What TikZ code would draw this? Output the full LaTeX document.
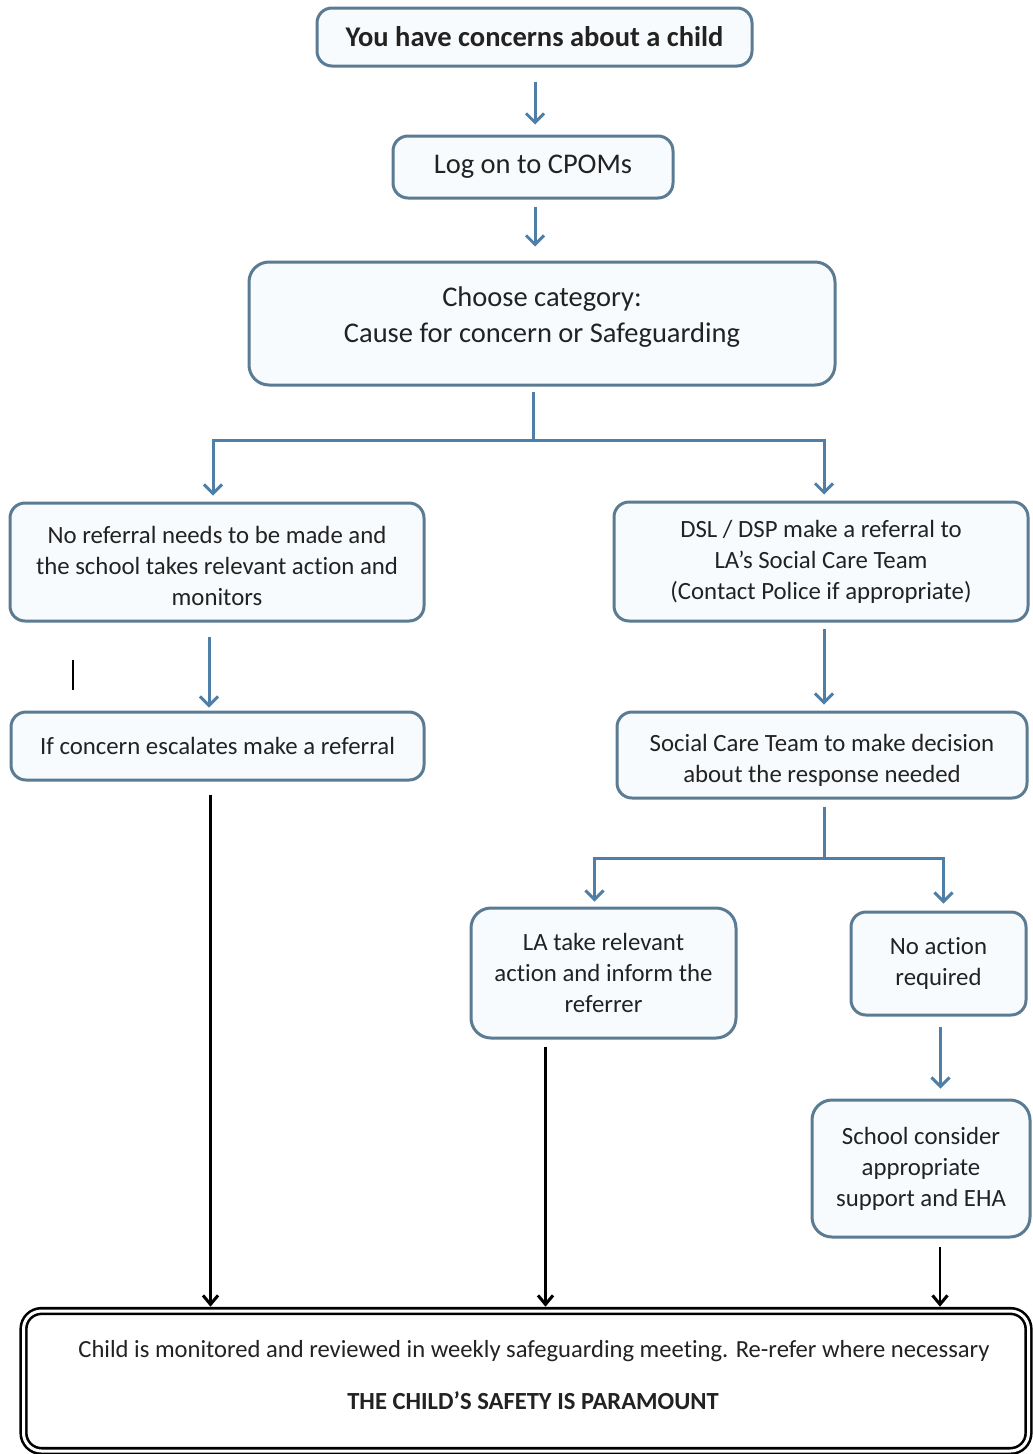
\documentclass[tikz,border=0pt]{standalone}
\usepackage{fontspec}
\setmainfont{Carlito}[Ligatures=CommonOff]
\usetikzlibrary{arrows.meta,calc}
\definecolor{bord}{HTML}{5B7B93}
\definecolor{arrc}{HTML}{4F7FA6}
\definecolor{boxfill}{HTML}{F8FBFD}
\definecolor{txt}{HTML}{222222}
\begin{document}
\begin{tikzpicture}[x=1pt,y=-1pt,
  box/.style={draw=bord, line width=3pt, rounded corners=15pt, fill=boxfill, align=center, inner sep=0pt, text=txt, font=\fontsize{24.8}{31}\selectfont},
  arr/.style={draw=arrc, line width=3pt, -{Straight Barb[length=9pt,width=18pt,line width=3pt]}},
  bline/.style={draw=arrc, line width=3pt},
  karr/.style={draw=black, line width=2.8pt, -{Straight Barb[length=9pt,width=15pt,line width=3pt]}},
  btext/.style={text=txt, inner sep=0pt}
]
\useasboundingbox[fill=white] (0,0) rectangle (1033,1454);

\node[box, minimum width=435pt, minimum height=58pt, font=\bfseries\fontsize{28.5}{31}\selectfont] (b1) at (534.5,37) {You have concerns about a child};
\node[box, minimum width=280pt, minimum height=62pt, font=\fontsize{28.5}{31}\selectfont] (b2) at (533,167) {Log on to CPOMs};
\node[box, minimum width=586pt, minimum height=123pt, rounded corners=20pt, font=\fontsize{28.5}{36}\selectfont] (b3) at (542,323.5) {Choose category:\\Cause for concern or Safeguarding\\[-18pt]\mbox{}};
\node[box, minimum width=414pt, minimum height=118pt] (l1) at (217,562) {\rule{0pt}{26pt}No referral needs to be made and\\the school takes relevant action and\\monitors};
\node[box, minimum width=414pt, minimum height=119pt] (r1) at (821,561.5) {DSL / DSP make a referral to\\LA’s Social Care Team\\(Contact Police if appropriate)};
\node[box, minimum width=413pt, minimum height=68pt] (l2) at (217.5,746) {If concern escalates make a referral};
\node[box, minimum width=410pt, minimum height=86pt] (r2) at (822,755) {\rule{0pt}{28pt}Social Care Team to make decision\\about the response needed};
\node[box, minimum width=265pt, minimum height=130pt, rounded corners=20pt] (la) at (603.5,973) {LA take relevant\\action and inform the\\referrer};
\node[box, minimum width=175pt, minimum height=103pt] (na) at (938.5,963.5) {No action\\required};
\node[box, minimum width=218pt, minimum height=137pt, rounded corners=20pt] (sc) at (921,1168.5) {School consider\\appropriate\\support and EHA};
\node[draw=black, line width=2.6pt, double=white, double distance=3pt, rounded corners=18pt, minimum width=1005pt, minimum height=140pt, inner sep=0pt] (bot) at (526,1381) {};
\node[btext, font=\fontsize{24.6}{28}\selectfont] (t1) at (534,1351) {Child is monitored and reviewed in weekly safeguarding meeting. Re-refer where necessary};
\node[btext, font=\bfseries\fontsize{24.6}{28}\selectfont] (t2) at (533,1401) {THE CHILD’S SAFETY IS PARAMOUNT};

\draw[arr, shorten <=14pt, shorten >=10pt] ([xshift=0.5pt]b1.south) -- ([xshift=0.5pt]b1.south |- b2.north);
\draw[arr, shorten <=7pt, shorten >=14pt] ([xshift=2pt]b2.south) -- ([xshift=2pt]b2.south |- b3.north);
\coordinate (j1) at (533,440);
\draw[bline, shorten <=5pt] ([xshift=-9pt]b3.south) -- (j1);
\draw[arr, shorten >=6pt] (j1) -| ([xshift=-4pt]l1.north);
\draw[arr, shorten >=6pt] (j1) -| ([xshift=3pt]r1.north);
\draw[arr, shorten <=14pt, shorten >=3pt] ([xshift=-8pt]l1.south) -- ([xshift=-8pt]l1.south |- l2.north);
\draw[arr, shorten <=6pt, shorten >=6pt] ([xshift=3pt]r1.south) -- ([xshift=3pt]r1.south |- r2.north);
\coordinate (j2) at (824,858);
\draw[bline, shorten <=7pt] ([xshift=2pt]r2.south) -- (j2);
\draw[arr, shorten >=5pt] (j2) -| ([xshift=-9pt]la.north);
\draw[arr, shorten >=7pt] (j2) -| ([xshift=5pt]na.north);
\draw[arr, shorten <=10pt, shorten >=10pt] ([xshift=2pt]na.south) -- ([xshift=2pt]na.south |- sc.north);

\draw[karr, shorten <=13pt, shorten >=3pt] ([xshift=-7pt]l2.south) -- ([xshift=-7pt]l2.south |- bot.north);
\draw[karr, shorten <=7pt, shorten >=3pt] ([xshift=-58pt]la.south) -- ([xshift=-58pt]la.south |- bot.north);
\draw[karr, shorten <=8pt, shorten >=3pt] ([xshift=19pt]sc.south) -- ([xshift=19pt]sc.south |- bot.north);

\draw[line width=2pt] (73,660) -- (73,690);
\end{tikzpicture}
\end{document}
